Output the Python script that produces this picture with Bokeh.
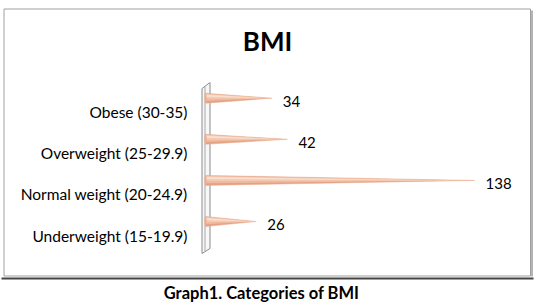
from bokeh.plotting import figure
from bokeh.models import Range1d, ColumnDataSource
from bokeh.core.properties import value
from bokeh.embed import file_html
from bokeh.resources import INLINE

# ---- data ----
categories = ["Underweight (15-19.9)", "Normal weight (20-24.9)",
              "Overweight (25-29.9)", "Obese (30-35)"]
counts = [26, 138, 42, 34]
title_text = "BMI"
caption_text = "Graph1. Categories of BMI"

# ---- layout helpers (pixel geometry of the canvas) ----
W, H = 535, 306
PX_PER_UNIT = 1.95
X0_PX = 205.0
ROW_PX = 41.1
ROW0_PY = 221.0

x_start = -X0_PX / PX_PER_UNIT
x_end = x_start + W / PX_PER_UNIT
y_end = ROW0_PY / ROW_PX
y_start = (ROW0_PY - H) / ROW_PX


def px(xp):
    return x_start + xp / W * (x_end - x_start)


def py(yp):
    return y_end - yp / H * (y_end - y_start)


p = figure(width=W, height=H, output_backend="svg", toolbar_location=None,
           x_range=Range1d(x_start, x_end), y_range=Range1d(y_start, y_end),
           min_border=0, x_axis_location=None, y_axis_location=None)
p.outline_line_color = None
p.grid.visible = False
p.background_fill_color = "white"
p.border_fill_color = "white"

# ---- chart border with shadow ----
p.quad(left=[px(3.5)], right=[px(530)], top=[py(8.5)], bottom=[py(275.5)],
       fill_color=None, line_color="#a0a0a0", line_width=1)
p.segment(x0=[px(531.5)], y0=[py(10)], x1=[px(531.5)], y1=[py(276)],
          line_color="#b4b4b4", line_width=2)
p.segment(x0=[px(1)], y0=[py(278)], x1=[px(533)], y1=[py(278)],
          line_color="#454545", line_width=2)

# ---- 3D axis wall ----
wall_x = [px(201.5), px(209.5), px(209.5), px(201.5)]
wall_y = [py(88), py(82), py(248), py(253)]
p.patch(wall_x, wall_y, fill_color="#f7f7f7", line_color="#8c8c8c", line_width=1)
p.segment(x0=[px(204.5)], y0=[py(86)], x1=[px(204.5)], y1=[py(251)],
          line_color="#a8a8a8", line_width=1)

# ---- cones ----
idx = list(range(len(categories)))
h = 5.0 / ROW_PX


def tri(frac_top, frac_bot, tip_frac=1.0):
    xs, ys = [], []
    for i, v in zip(idx, counts):
        xs.append([0, v * tip_frac, 0])
        ys.append([i + h * frac_top, i, i - h * frac_bot])
    return xs, ys


xs, ys = tri(1.0, 1.0)
p.patches(xs, ys, fill_color="#e3a285", line_color="#e8ae93", line_width=0.5)
xs, ys = tri(0.9, 0.55)
p.patches(xs, ys, fill_color="#efbb9f", line_color=None)
xs, ys = tri(0.85, 0.1)
p.patches(xs, ys, fill_color="#f5cbb4", line_color=None)
xs, ys = tri(0.7, -0.3, tip_frac=0.85)
p.patches(xs, ys, fill_color="#fbe1d3", line_color=None, fill_alpha=0.9)
# cone base
p.ellipse(x=[0] * len(idx), y=idx, width=2.2 / PX_PER_UNIT, height=2 * h,
          fill_color="#eaae92", line_color=None)

src = ColumnDataSource(dict(cat=categories, n=counts, i=idx,
                            lab=[str(c) for c in counts],
                            lx=[px(187)] * len(idx)))

# value labels
p.text(x="n", y="i", text="lab", source=src, x_offset=11, y_offset=3,
       text_align="left", text_baseline="middle", text_font=value("Lato"),
       text_font_size="15px", text_color="black")

# category labels
p.text(x="lx", y="i", text="cat", source=src, y_offset=14,
       text_align="right", text_baseline="middle", text_font=value("Lato"),
       text_font_size="15.5px", text_color="black")

# title
p.text(x=[px(267)], y=[py(40)], text=[title_text], text_align="center",
       text_baseline="middle", text_font=value("Lato"), text_font_style="bold",
       text_font_size="26px", text_color="black")

# caption
p.text(x=[px(261)], y=[py(292)], text=[caption_text], text_align="center",
       text_baseline="middle", text_font=value("Lato"), text_font_style="bold",
       text_font_size="16.5px", text_color="black")

open("out.html", "w").write(file_html(p, INLINE))
